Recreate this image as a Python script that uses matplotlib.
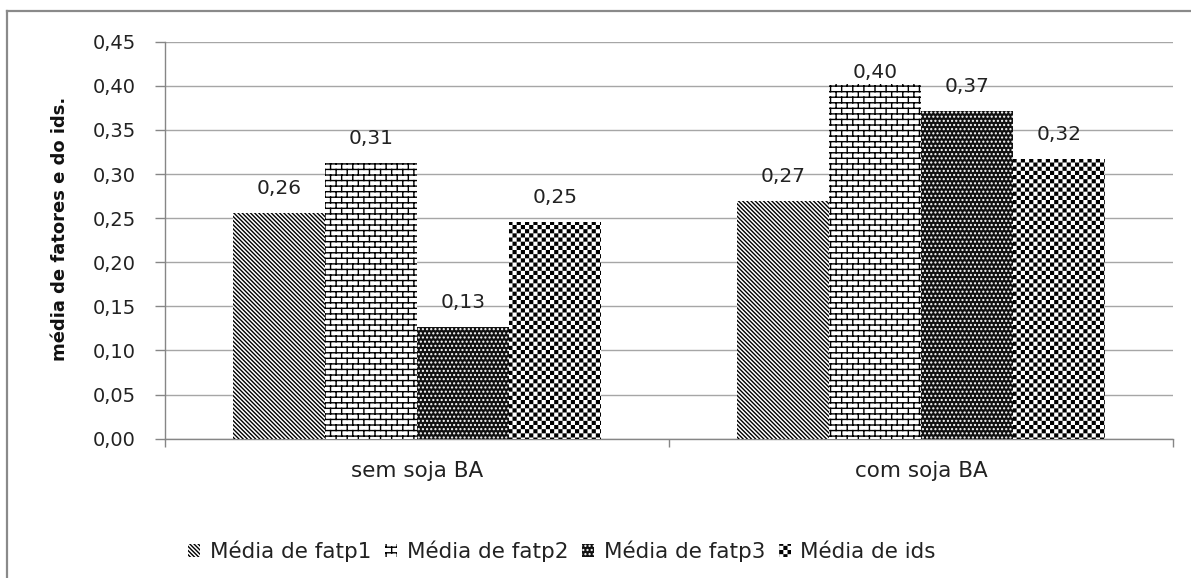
import numpy as np
import matplotlib
matplotlib.use("Agg")
import matplotlib.pyplot as plt
from matplotlib import hatch as mhatch
from matplotlib.path import Path
from matplotlib.lines import Line2D
from matplotlib.ticker import FuncFormatter

# data
categories = ["sem soja BA", "com soja BA"]
series_names = ["Média de fatp1", "Média de fatp2", "Média de fatp3", "Média de ids"]
fatp1 = [0.256, 0.269]
fatp2 = [0.313, 0.402]
fatp3 = [0.127, 0.372]
ids = [0.246, 0.317]
y_ticks = [0.00, 0.05, 0.10, 0.15, 0.20, 0.25, 0.30, 0.35, 0.40, 0.45]

W, H = 1191, 578
_FONT = 14
_TEXT_FONT = 15.5
_GRID = "#a6a6a6"
_AXIS = "#868686"
_BS = chr(92)  # backslash, avoids escaping trouble


class BrickHatch(mhatch.HatchPatternBase):
    # excel "brick" fill, used in place of the 'o' hatch
    def __init__(self, hatch, density):
        self.rows = hatch.count('o') * 18
        self.cols = hatch.count('o') * 9
        if self.rows == 0:
            self.num_vertices = 0
        else:
            n_seg = self.rows + self.rows * self.cols + self.cols
            self.num_vertices = n_seg * 2

    def set_vertices_and_codes(self, vertices, codes):
        h = 1.0 / self.rows
        w = 1.0 / self.cols
        segs = []
        for j in range(self.rows):
            y0 = (j + 0.5) * h
            segs.append([(0, y0), (1, y0)])
            shift = 0.25 * w if j % 2 == 0 else 0.75 * w
            for i in range(self.cols):
                x = i * w + shift
                segs.append([(x, y0), (x, y0 + h)])
        # last row wraps over the tile edge
        for i in range(self.cols):
            x = i * w + shift
            segs.append([(x, y0 - 1), (x, y0 - 1 + h)])
        vertices[:] = np.array(segs, dtype=float).reshape(-1, 2)
        codes[0::2] = Path.MOVETO
        codes[1::2] = Path.LINETO


class CheckerHatch(mhatch.HatchPatternBase):
    # checkerboard fill, used in place of the 'O' hatch
    def __init__(self, hatch, density):
        self.n = hatch.count('O') * 24
        self.num_vertices = (self.n * self.n // 2) * 5

    def set_vertices_and_codes(self, vertices, codes):
        s = 1.0 / self.n
        m = 0.007  # the hatch stroke grows each square a bit
        square = np.array([[m, m], [s - m, m], [s - m, s - m], [m, s - m], [m, m]])
        parts = []
        for j in range(self.n):
            for i in range(j % 2, self.n, 2):
                parts.append(square + [i * s, j * s])
        vertices[:] = np.concatenate(parts)
        codes[:] = np.tile([Path.MOVETO, Path.LINETO, Path.LINETO,
                            Path.LINETO, Path.CLOSEPOLY], len(parts))


mhatch._hatch_types[mhatch._hatch_types.index(mhatch.SmallCircles)] = BrickHatch
mhatch._hatch_types[mhatch._hatch_types.index(mhatch.LargeCircles)] = CheckerHatch

plt.rcParams['font.family'] = ['DejaVu Sans']
plt.rcParams['hatch.linewidth'] = 1.0

fig = plt.figure(figsize=(W / 100, H / 100), dpi=100)
ax = fig.add_axes([165 / W, 1 - 438.7 / H, (1173 - 165) / W, (438.7 - 41.7) / H])

series = [fatp1, fatp2, fatp3, ids]
styles = [
    dict(color="white", edgecolor="black", hatch=_BS * 8),
    dict(color="white", edgecolor="black", hatch="o"),
    dict(color="#111111", edgecolor="white", hatch="...."),
    dict(color="white", edgecolor="black", hatch="O"),
]
x = np.arange(len(categories))
bw = 0.1825
label_gap = 19 / 882.2   # 19 px above the bar, in data units
label_max = 0.409        # excel keeps the top label inside the chart
handles = []
for k, (vals, st) in enumerate(zip(series, styles)):
    bars = ax.bar(x + (k - 1.5) * bw, vals, bw, linewidth=0, zorder=3,
                  facecolor=st["color"], edgecolor=st["edgecolor"], hatch=st["hatch"])
    handles.append(bars)
    for xi, v in zip(x + (k - 1.5) * bw, vals):
        ax.text(xi, min(v + label_gap, label_max), f"{v:.2f}".replace(".", ","),
                ha="center", va="baseline", fontsize=_FONT + 0.5, color="#222222",
                zorder=4)

ax.set_xlim(-0.5, 1.5)
ax.set_ylim(0, 0.45)
ax.set_yticks(y_ticks)
ax.yaxis.set_major_formatter(FuncFormatter(lambda v, p: f"{v:.2f}".replace(".", ",")))
ax.set_xticks([-0.5, 0.5, 1.5])
ax.set_xticklabels([])
ax.set_xticks(x, minor=True)
ax.set_xticklabels(categories, minor=True)
ax.tick_params(axis="x", which="major", length=6, width=1, color=_AXIS, direction="out")
ax.tick_params(axis="x", which="minor", length=0, pad=16, labelsize=_TEXT_FONT,
               labelcolor="#222222")
ax.tick_params(axis="y", length=7, width=1, color=_AXIS, pad=14, labelsize=_FONT,
               labelcolor="#222222")
ax.grid(axis="y", color=_GRID, linewidth=1.0, zorder=0)
ax.set_axisbelow(True)
for s in ["top", "right"]:
    ax.spines[s].set_visible(False)
for s in ["left", "bottom"]:
    ax.spines[s].set_color(_AXIS)
    ax.spines[s].set_linewidth(1.0)

fig.text(60 / W, 1 - 229 / H, "média de fatores e do ids.", rotation=90,
         ha="center", va="center", fontsize=13, fontweight="bold", color="#111111")

fig.legend(handles, series_names, loc="center", bbox_to_anchor=(562 / W, 1 - 551 / H),
           ncol=4, frameon=False, handlelength=0.55, handleheight=0.55,
           handletextpad=0.45, columnspacing=0.65, fontsize=_TEXT_FONT,
           labelcolor="#222222")

# outer chart frame (only the left and top edges are in the picture)
fig.add_artist(Line2D([7 / W, 7 / W], [0, 1 - 11 / H], transform=fig.transFigure,
                      color="#8a8a8a", linewidth=1.6))
fig.add_artist(Line2D([7 / W, 1], [1 - 11 / H, 1 - 11 / H], transform=fig.transFigure,
                      color="#8a8a8a", linewidth=1.6))

fig.savefig("out.png", dpi=100)
